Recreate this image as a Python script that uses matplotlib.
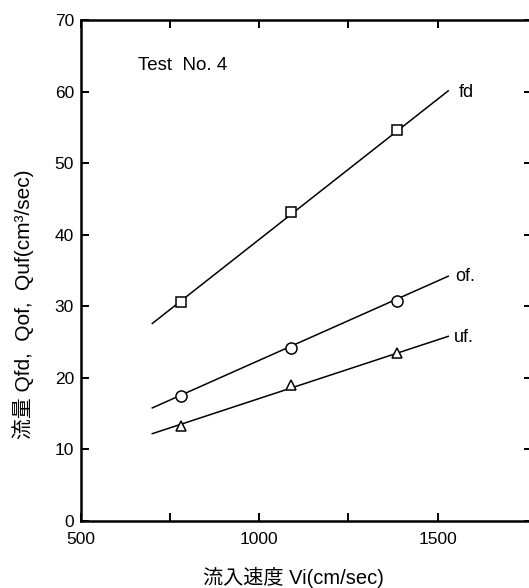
import matplotlib
matplotlib.use("Agg")
import matplotlib.pyplot as plt

plt.rcParams['font.family'] = ['Liberation Sans', 'Noto Sans CJK JP', 'DejaVu Sans']

# 流入速度 (cm/sec) at the measured points
vi = [780, 1090, 1385]
q_fd = [30.6, 43.2, 54.6]
q_of = [17.4, 24.2, 30.8]
q_uf = [13.3, 19.0, 23.5]

# straight-line fits drawn through each series
vi_fit = [700, 1530]
fd_fit = [27.6, 60.1]
of_fit = [15.8, 34.2]
uf_fit = [12.2, 25.8]

xticks = [500, 1000, 1500]
yticks = [0, 10, 20, 30, 40, 50, 60, 70]

fig = plt.figure(figsize=(5.29, 5.88), dpi=100)
ax = fig.add_axes([81 / 529, 67 / 588, 451 / 529, 501 / 588])

ax.plot(vi_fit, fd_fit, color='black', lw=1.1)
ax.plot(vi_fit, of_fit, color='black', lw=1.1)
ax.plot(vi_fit, uf_fit, color='black', lw=1.1)
ax.plot(vi, q_fd, ls='none', marker='s', ms=7, mfc='white', mec='black', mew=1.1)
ax.plot(vi, q_of, ls='none', marker='o', ms=8, mfc='white', mec='black', mew=1.1)
ax.plot(vi, q_uf, ls='none', marker='^', ms=7, mfc='white', mec='black', mew=1.1)

ax.text(1559, 59.9, 'fd', fontsize=13, va='center', ha='left')
ax.text(1551, 34.2, 'of.', fontsize=13, va='center', ha='left')
ax.text(1545, 25.6, 'uf.', fontsize=13, va='center', ha='left')
ax.text(660, 63.6, 'Test  No. 4', fontsize=13.5, va='center', ha='left')

ax.set_xlim(500, 1765)
ax.set_ylim(0, 70)
ax.xaxis.set_major_locator(plt.FixedLocator(xticks))
ax.xaxis.set_minor_locator(plt.FixedLocator([750, 1250]))
ax.xaxis.set_minor_formatter(plt.NullFormatter())
ax.set_yticks(yticks)
ax.tick_params(which='both', direction='in', length=6, width=1.4,
               top=True, right=True, labelsize=12.5)
ax.tick_params(axis='y', which='both', right=True)
ax.yaxis.set_tick_params(which='major', length=6)
ax.tick_params(axis='y', pad=5)
ax.tick_params(axis='x', pad=8)
for s in ax.spines.values():
    s.set_linewidth(1.8)

fig.text(293 / 529, 1 - 577 / 588, '流入速度 Vi(cm/sec)', fontsize=14.5,
         ha='center', va='center')
fig.text(23 / 529, 1 - 304 / 588, '流量 Qfd,  Qof,  Quf(cm³/sec)', fontsize=15,
         ha='center', va='center', rotation=90)

fig.savefig('out.png', dpi=100)
